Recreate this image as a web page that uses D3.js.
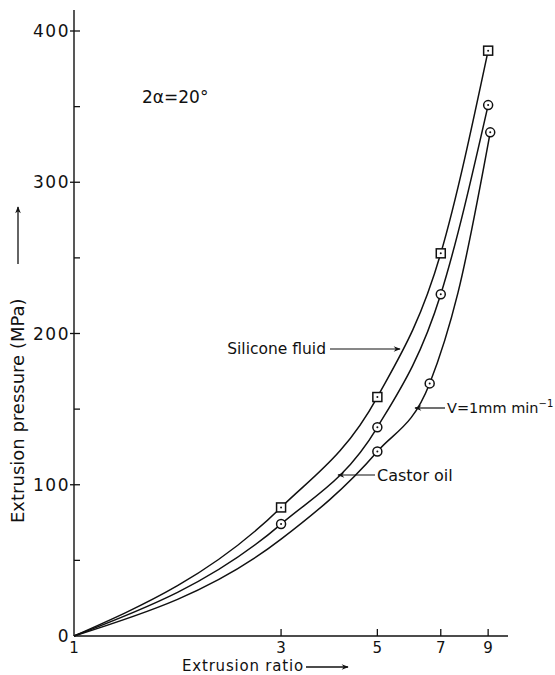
<!DOCTYPE html>
<html>
<head>
<meta charset="utf-8">
<script src="https://cdn.jsdelivr.net/npm/d3@7"></script>
<style>
  html, body { margin: 0; padding: 0; background: #fff; }
  svg text { font-family: "DejaVu Sans", "Noto Sans", sans-serif; fill: #111; }
</style>
</head>
<body>
<svg id="chart" width="555" height="675"></svg>
<script>
// Extrusion ratio (log axis) against extrusion pressure, three lubricant conditions
const xTicks = [1, 3, 5, 7, 9];
const yTicks = [0, 100, 200, 300, 400];
const yMinorTicks = [50, 150, 250, 350];

// Silicone fluid (square markers)
const siliconeRatio    = [1, 3, 5, 7, 9];
const siliconePressure = [0, 85, 158, 253, 387];
const siliconeMarked   = [false, true, true, true, true];

// Castor oil (circle markers)
const castorRatio    = [1, 3, 5, 7, 9];
const castorPressure = [0, 74, 138, 226, 351];
const castorMarked   = [false, true, true, true, true];

// V = 1 mm/min run (circle markers; unmarked entries are points on the drawn curve)
const slowRatio    = [1, 3, 5, 6.6, 7.67, 9.1];
const slowPressure = [0, 64, 122, 167, 227, 333];
const slowMarked   = [false, false, true, true, false, true];

const svg = d3.select("#chart");
const ink = "#111";

const x = d3.scaleLog().domain([1, 10]).range([74, 508]);
const y = d3.scaleLinear().domain([0, 400]).range([636, 31]);

// arrowhead used by axis titles and annotations
svg.append("defs").append("marker")
  .attr("id", "head").attr("viewBox", "0 0 10 10")
  .attr("refX", 9).attr("refY", 5)
  .attr("markerWidth", 9).attr("markerHeight", 7)
  .attr("markerUnits", "userSpaceOnUse")
  .attr("orient", "auto")
  .append("path").attr("d", "M0,1 L10,5 L0,9 L3,5 Z").attr("fill", ink);

// axes
svg.append("line").attr("x1", 74).attr("x2", 74).attr("y1", y(0)).attr("y2", 10)
  .attr("stroke", ink).attr("stroke-width", 1.4);
svg.append("line").attr("x1", 74).attr("x2", 508).attr("y1", y(0)).attr("y2", y(0))
  .attr("stroke", ink).attr("stroke-width", 1.4);

// y ticks: major cross the axis, minor point inward
svg.selectAll(".ymaj").data(yTicks.filter(d => d > 0)).join("line")
  .attr("x1", 70).attr("x2", 80).attr("y1", d => y(d)).attr("y2", d => y(d))
  .attr("stroke", ink).attr("stroke-width", 1.3);
svg.selectAll(".ymin").data(yMinorTicks).join("line")
  .attr("x1", 74).attr("x2", 80).attr("y1", d => y(d)).attr("y2", d => y(d))
  .attr("stroke", ink).attr("stroke-width", 1.3);
svg.selectAll(".ylab").data(yTicks).join("text")
  .attr("x", 70).attr("y", d => y(d)).attr("dy", "0.36em")
  .attr("text-anchor", "end").attr("font-size", 17).attr("letter-spacing", 1.5)
  .text(d => d);

// x ticks point up into the plot
svg.selectAll(".xmaj").data(xTicks.filter(d => d > 1)).join("line")
  .attr("x1", d => x(d)).attr("x2", d => x(d)).attr("y1", y(0)).attr("y2", y(0) - 7)
  .attr("stroke", ink).attr("stroke-width", 1.3);
svg.selectAll(".xlab").data(xTicks).join("text")
  .attr("x", d => x(d)).attr("y", 653)
  .attr("text-anchor", "middle").attr("font-size", 15)
  .text(d => d);

// axis titles with arrows
svg.append("text").attr("x", 182).attr("y", 671).attr("font-size", 15)
  .attr("letter-spacing", 0.8).text("Extrusion ratio");
svg.append("line").attr("x1", 306).attr("x2", 348).attr("y1", 667).attr("y2", 667)
  .attr("stroke", ink).attr("stroke-width", 1.3).attr("marker-end", "url(#head)");

svg.append("text").attr("transform", "translate(24,523) rotate(-90)")
  .attr("font-size", 18).text("Extrusion pressure (MPa)");
svg.append("line").attr("x1", 18).attr("x2", 18).attr("y1", 264).attr("y2", 207)
  .attr("stroke", ink).attr("stroke-width", 1.3).attr("marker-end", "url(#head)");

// curves
const line = d3.line()
  .x(d => x(d[0])).y(d => y(d[1]))
  .curve(d3.curveMonotoneX);

const series = [
  { r: siliconeRatio, p: siliconePressure, m: siliconeMarked, shape: "square" },
  { r: castorRatio,   p: castorPressure,   m: castorMarked,   shape: "circle" },
  { r: slowRatio,     p: slowPressure,     m: slowMarked,     shape: "circle" }
];

series.forEach(s => {
  const pts = s.r.map((r, i) => [r, s.p[i]]);
  svg.append("path").attr("d", line(pts))
    .attr("fill", "none").attr("stroke", ink).attr("stroke-width", 1.5);
});

series.forEach(s => {
  const pts = s.r.map((r, i) => [r, s.p[i], s.m[i]]).filter(d => d[2]);
  const g = svg.append("g");
  pts.forEach(d => {
    const cx = x(d[0]), cy = y(d[1]);
    if (s.shape === "square") {
      g.append("rect").attr("x", cx - 4.5).attr("y", cy - 4.5)
        .attr("width", 9).attr("height", 9)
        .attr("fill", "#fff").attr("stroke", ink).attr("stroke-width", 1.5);
    } else {
      g.append("circle").attr("cx", cx).attr("cy", cy).attr("r", 4.5)
        .attr("fill", "#fff").attr("stroke", ink).attr("stroke-width", 1.5);
    }
    g.append("circle").attr("cx", cx).attr("cy", cy).attr("r", 1).attr("fill", ink);
  });
});

// annotations
svg.append("text").attr("x", 142).attr("y", 103).attr("font-size", 17)
  .text("2α=20°");

svg.append("text").attr("x", 326).attr("y", 354).attr("font-size", 15.5)
  .attr("text-anchor", "end").text("Silicone fluid");
svg.append("line").attr("x1", 330).attr("x2", 400).attr("y1", 349).attr("y2", 349)
  .attr("stroke", ink).attr("stroke-width", 1.2).attr("marker-end", "url(#head)");

const vLab = svg.append("text").attr("x", 447).attr("y", 413).attr("font-size", 14.5);
vLab.append("tspan").text("V=1mm min");
vLab.append("tspan").attr("dy", -6).attr("font-size", 10).text("−1");
svg.append("line").attr("x1", 445).attr("x2", 415).attr("y1", 408).attr("y2", 408)
  .attr("stroke", ink).attr("stroke-width", 1.2).attr("marker-end", "url(#head)");

svg.append("text").attr("x", 377).attr("y", 481).attr("font-size", 16)
  .text("Castor oil");
svg.append("line").attr("x1", 375).attr("x2", 338).attr("y1", 475).attr("y2", 475)
  .attr("stroke", ink).attr("stroke-width", 1.2).attr("marker-end", "url(#head)");
</script>
</body>
</html>
